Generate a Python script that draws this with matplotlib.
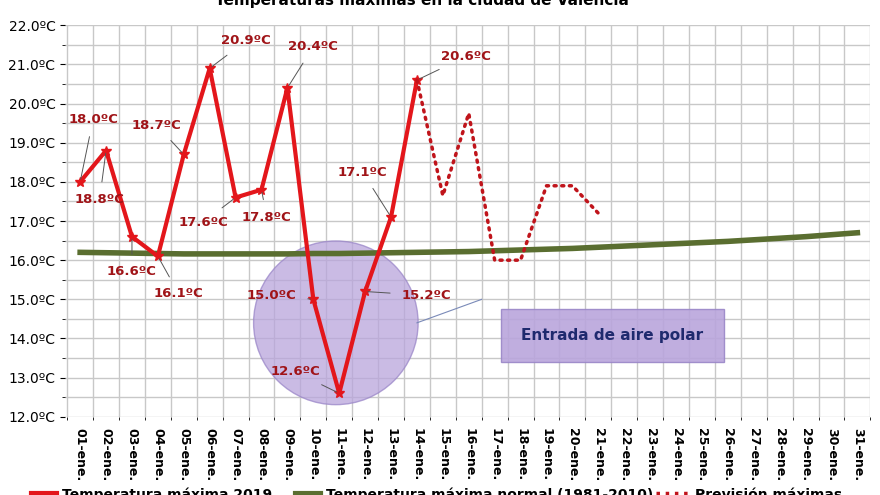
import matplotlib.pyplot as plt
from matplotlib.patches import Ellipse, Rectangle

days = list(range(1, 32))
tick_labels = ["%02d-ene." % d for d in days]
obs_days = list(range(1, 15))
obs_temp = [18.0, 18.8, 16.6, 16.1, 18.7, 20.9, 17.6, 17.8, 20.4, 15.0, 12.6, 15.2, 17.1, 20.6]
fc_days = [14, 15, 16, 17, 18, 19, 20, 21]
fc_temp = [20.6, 17.65, 19.75, 16.0, 16.0, 17.9, 17.9, 17.2]
norm_temp = [16.2, 16.19, 16.18, 16.17, 16.16, 16.16, 16.16, 16.16, 16.16, 16.17, 16.17, 16.18,
             16.19, 16.2, 16.21, 16.22, 16.24, 16.26, 16.28, 16.3, 16.33, 16.36, 16.39, 16.42,
             16.45, 16.48, 16.52, 16.56, 16.6, 16.65, 16.7]
# label text offsets (dx days, dy degrees) for each observed point
lab_off = [(0.5, 1.6), (-0.25, -1.25), (0.0, -0.9), (0.8, -0.95), (-1.05, 0.75), (1.4, 0.7), (-1.25, -0.63),
           (0.2, -0.7), (1.0, 1.05), (-1.6, 0.1), (-1.7, 0.55), (2.35, -0.1), (-1.1, 1.15), (1.9, 0.6)]

fig = plt.figure(figsize=(8.8, 4.95), dpi=100)
ax = fig.add_axes([0.074, 0.158, 0.915, 0.791])
ax.set_xlim(0.42, 31.4)
ax.set_ylim(12, 22)
ax.set_xticks(days)
ax.set_xticks([d + 0.5 for d in range(0, 32)], minor=True)
ax.set_xticklabels(tick_labels, rotation=-90, fontsize=9, fontweight="bold")
ax.tick_params(axis="x", which="major", length=0, pad=8)
ax.set_yticks([12 + i for i in range(11)])
ax.set_yticklabels(["%.1fºC" % (12 + i) for i in range(11)], fontsize=10)
ax.set_yticks([12.5 + i for i in range(10)], minor=True)
ax.grid(True, which="major", axis="y", color="#c8c8c8", lw=1)
ax.grid(True, which="minor", color="#c8c8c8", lw=1)
for s in ax.spines.values():
    s.set_visible(False)

ax.add_patch(Ellipse((10.87, 14.4), 6.35, 4.18, facecolor="#b9a5dc", edgecolor="#9a86c8", alpha=0.75, zorder=2))
ax.add_patch(Rectangle((17.26, 13.4), 8.6, 1.35, facecolor="#b9a5dc", edgecolor="#9a86c8", alpha=0.9, zorder=2))
ax.text(21.55, 14.07, "Entrada de aire polar", ha="center", va="center", color="#1f2a6e",
        fontsize=11, fontweight="bold", zorder=3)
ax.plot([14.0, 16.5], [14.4, 15.0], color="#7a8ab8", lw=0.8, zorder=3)

ax.plot(days, norm_temp, color="#5a6e30", lw=4, zorder=4)
ax.plot(obs_days, obs_temp, color="#e3161b", lw=3, marker="*", markersize=7, zorder=5)
ax.plot(fc_days, fc_temp, color="#c0141b", lw=2.5, ls=(0, (0.6, 1.6)), dash_capstyle="round", zorder=5)

for d, t, (dx, dy) in zip(obs_days, obs_temp, lab_off):
    ax.annotate("%.1fºC" % t, xy=(d, t), xytext=(d + dx, t + dy), ha="center", va="center",
                color="#a01418", fontsize=9.5, fontweight="bold",
                arrowprops=dict(arrowstyle="-", color="#555555", lw=0.7, shrinkA=6), zorder=6)

fig.text(0.48, 1.0, "Temperaturas máximas en la ciudad de Valencia", ha="center", va="center",
         fontsize=11, fontweight="bold")
fig.text(0.07, 0.0, "Temperatura máxima 2019", ha="left", va="center", fontsize=10, fontweight="bold")
fig.text(0.37, 0.0, "Temperatura máxima normal (1981-2010)", ha="left", va="center", fontsize=10, fontweight="bold")
fig.text(0.79, 0.0, "Previsión máximas", ha="left", va="center", fontsize=10, fontweight="bold")
fig.lines.append(plt.Line2D([0.035, 0.065], [0.005, 0.005], color="#e3161b", lw=3, transform=fig.transFigure))
fig.lines.append(plt.Line2D([0.335, 0.365], [0.005, 0.005], color="#5a6e30", lw=3, transform=fig.transFigure))
fig.lines.append(plt.Line2D([0.745, 0.785], [0.005, 0.005], color="#c0141b", lw=2.5, ls=":", transform=fig.transFigure))

fig.savefig("out.png", dpi=100)
